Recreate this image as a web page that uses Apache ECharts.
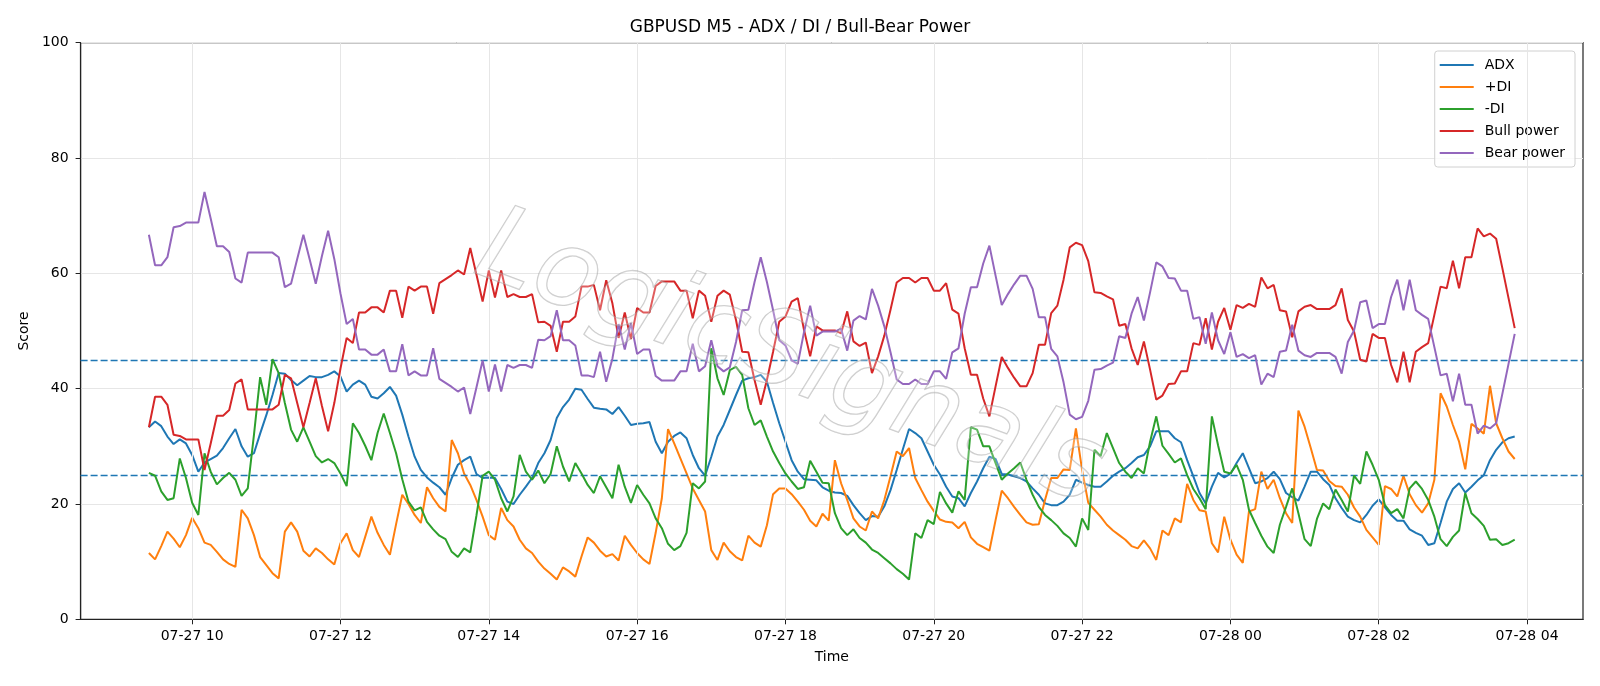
<!DOCTYPE html>
<html>
<head>
<meta charset="utf-8">
<title>GBPUSD M5 - ADX / DI / Bull-Bear Power</title>
<script src="https://cdn.jsdelivr.net/npm/echarts@6/dist/echarts.min.js"></script>
<style>
  html, body { margin: 0; padding: 0; background: #fff; }
  #chart { width: 1600px; height: 686px; }
</style>
</head>
<body>
<div id="chart"></div>
<script>
// 5-minute bars, first bar 07-27 09:25 (UTC)
const startTime = Date.UTC(2025, 6, 27, 9, 25);
const stepMs = 5 * 60 * 1000;

const adx = [
  33.3, 34.3, 33.5, 31.7, 30.4, 31.2, 30.5, 28.5, 25.6, 27.2, 27.8, 28.4, 29.7, 31.4, 33.0, 30.0, 28.2, 28.8, 32.2, 35.4, 38.9, 42.7, 42.6, 41.5, 40.6, 41.4, 42.2, 42.0, 42.0, 42.4, 43.0, 42.1,
  39.5, 40.7, 41.4, 40.7, 38.6, 38.3, 39.2, 40.3, 38.8, 35.5, 31.7, 28.2, 25.9, 24.6, 23.7, 22.9, 21.6, 24.5, 26.8, 27.6, 28.2, 25.2, 24.5, 24.6, 24.5, 22.6, 20.4, 20.0, 21.6, 23.0, 24.5, 27.1,
  28.8, 31.1, 34.9, 36.8, 38.1, 40.0, 39.8, 38.2, 36.7, 36.5, 36.4, 35.6, 36.8, 35.3, 33.7, 33.9, 34.0, 34.2, 30.8, 28.8, 30.8, 31.8, 32.4, 31.4, 28.5, 26.2, 24.9, 28.2, 31.7, 33.7, 36.3, 38.9,
  41.4, 41.8, 42.0, 42.4, 41.2, 37.5, 34.0, 30.8, 27.6, 25.6, 24.3, 24.2, 24.1, 22.9, 22.3, 22.0, 21.9, 21.4, 19.8, 18.4, 17.2, 17.9, 17.8, 19.6, 22.4, 25.9, 29.5, 33.0, 32.3, 31.4, 29.1, 26.8, 25.1,
  23.0, 21.3, 21.0, 19.6, 21.9, 23.9, 26.2, 28.2, 27.8, 25.2, 25.1, 24.8, 24.5, 23.9, 22.7, 21.6, 20.1, 19.8, 19.8, 20.4, 21.6, 24.2, 23.7, 23.3, 23.0, 23.0, 23.9, 24.9, 25.6, 26.2, 27.1, 28.1,
  28.5, 30.0, 32.6, 32.6, 32.6, 31.4, 30.7, 27.6, 24.8, 21.9, 20.1, 23.0, 25.4, 24.6, 25.2, 27.1, 28.8, 26.2, 23.6, 23.9, 24.5, 25.6, 24.3, 21.9, 21.2, 20.6, 23.0, 25.6, 25.6, 24.3, 23.3, 21.0,
  19.3, 17.8, 17.2, 16.8, 18.1, 19.7, 20.8, 19.4, 18.1, 17.1, 17.1, 15.6, 15.0, 14.5, 12.9, 13.2, 16.7, 20.4, 22.6, 23.6, 22.0, 23.0, 24.1, 25.0, 27.6, 29.4, 30.7, 31.4, 31.7
];

const plusDI = [
  11.5, 10.4, 12.7, 15.2, 14.0, 12.5, 14.6, 17.6, 15.8, 13.3, 12.9, 11.7, 10.4, 9.6, 9.1, 19.0, 17.5, 14.6, 10.8, 9.4, 8.0, 7.1, 15.2, 16.8, 15.2, 11.9, 10.9, 12.3, 11.5, 10.4, 9.5, 13.2,
  14.9, 12.0, 10.8, 14.3, 17.8, 15.0, 12.9, 11.2, 16.5, 21.6, 20.0, 18.1, 16.7, 22.9, 21.0, 19.5, 18.7, 31.1, 28.8, 25.3, 23.3, 20.7, 17.8, 14.6, 13.8, 19.3, 17.2, 16.1, 13.8, 12.3, 11.5, 10.0,
  8.8, 7.9, 6.9, 9.0, 8.3, 7.4, 10.9, 14.2, 13.3, 11.9, 10.9, 11.3, 10.2, 14.5, 12.9, 11.5, 10.4, 9.6, 15.0, 21.0, 33.0, 30.5, 27.9, 25.3, 22.7, 20.7, 18.7, 12.0, 10.3, 13.3, 11.8, 10.8,
  10.2, 14.5, 13.3, 12.6, 16.3, 21.7, 22.7, 22.7, 21.7, 20.4, 19.0, 17.1, 16.1, 18.3, 17.1, 27.6, 23.6, 20.7, 17.5, 16.1, 15.4, 18.7, 17.5, 20.7, 24.8, 29.1, 28.3, 29.7, 24.5, 22.4, 20.4, 18.8, 17.3,
  16.9, 16.8, 15.8, 16.9, 14.2, 13.1, 12.5, 11.9, 17.2, 22.3, 21.0, 19.5, 18.1, 16.8, 16.4, 16.5, 20.7, 24.5, 24.5, 26.0, 25.9, 33.1, 25.9, 20.2, 19.0, 17.8, 16.4, 15.4, 14.6, 13.8, 12.7, 12.3,
  13.7, 12.3, 10.3, 15.4, 14.6, 17.5, 16.8, 23.5, 20.7, 18.9, 18.7, 13.2, 11.6, 17.8, 13.8, 11.2, 9.8, 18.7, 19.1, 25.6, 22.6, 24.2, 21.0, 18.4, 16.7, 36.2, 33.4, 29.7, 25.9, 25.8, 24.0, 23.1,
  23.0, 21.6, 19.4, 17.8, 15.5, 14.2, 12.9, 23.1, 22.6, 21.3, 24.9, 21.7, 19.8, 18.5, 20.1, 24.2, 39.2, 36.9, 33.7, 30.8, 26.0, 33.9, 33.1, 32.2, 40.5, 34.0, 31.4, 29.1, 27.8
];

const minusDI = [
  25.4, 24.9, 22.2, 20.7, 21.0, 27.9, 24.5, 20.2, 18.1, 28.8, 25.6, 23.4, 24.5, 25.4, 24.2, 21.4, 22.7, 32.0, 42.0, 37.2, 45.1, 42.7, 37.5, 32.9, 30.8, 33.3, 30.8, 28.3, 27.2, 27.8, 27.1, 25.3,
  23.1, 34.0, 32.3, 30.1, 27.6, 32.3, 35.7, 32.3, 28.8, 24.3, 20.4, 18.9, 19.4, 16.9, 15.6, 14.5, 13.9, 11.7, 10.8, 12.3, 11.6, 18.0, 24.9, 25.6, 24.2, 21.0, 18.7, 21.3, 28.5, 25.6, 24.2, 25.8,
  23.6, 25.2, 30.0, 26.5, 23.9, 27.1, 25.3, 23.3, 21.9, 24.8, 22.9, 21.0, 26.8, 23.0, 20.2, 23.3, 21.6, 20.1, 17.5, 15.8, 13.1, 12.0, 12.7, 15.0, 23.6, 22.7, 23.9, 47.0, 41.8, 38.9, 43.2, 43.8,
  42.4, 36.6, 33.7, 34.5, 31.7, 29.1, 27.1, 25.3, 23.9, 22.6, 22.9, 27.5, 25.6, 23.7, 23.6, 18.4, 15.8, 14.6, 15.6, 14.1, 13.3, 12.1, 11.5, 10.6, 9.7, 8.7, 7.9, 6.9, 14.9, 14.1, 17.2, 16.5, 22.1,
  20.1, 18.5, 22.2, 20.7, 33.3, 32.9, 30.0, 30.0, 27.1, 24.2, 25.3, 26.2, 27.2, 24.2, 21.6, 19.5, 18.1, 17.2, 16.2, 14.9, 14.1, 12.6, 17.5, 15.5, 29.4, 28.3, 32.3, 29.7, 27.1, 25.6, 24.5, 26.2,
  25.3, 30.8, 35.2, 30.1, 28.7, 27.2, 27.9, 25.0, 22.6, 21.0, 19.1, 35.2, 30.2, 25.6, 25.3, 26.8, 24.2, 19.0, 16.7, 14.5, 12.6, 11.5, 16.4, 19.5, 22.7, 18.4, 13.9, 12.7, 17.4, 20.1, 19.1, 22.5,
  20.7, 18.7, 24.9, 23.5, 29.1, 26.8, 24.2, 19.8, 18.4, 19.1, 17.5, 22.7, 23.9, 22.6, 20.7, 17.8, 13.9, 12.7, 14.3, 15.4, 21.9, 18.4, 17.4, 16.2, 13.8, 13.9, 12.9, 13.2, 13.8
];

const bullPower = [
  33.3, 38.6, 38.6, 37.2, 32.0, 31.8, 31.2, 31.2, 31.2, 25.9, 30.5, 35.3, 35.3, 36.3, 40.9, 41.6, 36.4, 36.4, 36.4, 36.4, 36.4, 37.2, 42.4, 41.8, 37.5, 33.3, 37.5, 41.8, 37.0, 32.6, 37.5, 43.5,
  48.8, 47.9, 53.2, 53.2, 54.1, 54.1, 53.2, 57.0, 57.0, 52.3, 57.7, 57.0, 57.7, 57.7, 53.0, 58.3, 59.0, 59.7, 60.5, 59.8, 64.4, 59.8, 55.1, 60.5, 55.8, 60.5, 55.9, 56.4, 55.9, 55.9, 56.4, 51.5,
  51.6, 50.9, 46.4, 51.6, 51.6, 52.5, 57.7, 57.7, 58.0, 53.6, 58.8, 54.8, 48.8, 53.2, 48.6, 54.0, 53.2, 53.2, 57.8, 58.6, 58.6, 58.6, 57.0, 57.0, 52.2, 57.0, 56.1, 51.6, 56.1, 57.0, 56.3, 51.9,
  46.4, 46.3, 41.5, 37.2, 41.5, 46.4, 51.6, 52.5, 55.1, 55.7, 50.2, 45.6, 50.8, 50.1, 50.1, 50.1, 49.6, 53.4, 48.2, 47.4, 48.0, 42.7, 45.6, 49.2, 53.7, 58.4, 59.2, 59.2, 58.4, 59.2, 59.2, 57.0, 57.0,
  58.3, 53.7, 53.0, 47.0, 42.4, 42.4, 38.3, 35.2, 40.4, 45.5, 43.6, 41.9, 40.4, 40.4, 42.7, 47.6, 47.6, 53.1, 54.4, 58.9, 64.5, 65.3, 64.9, 62.1, 56.7, 56.6, 56.0, 55.5, 50.9, 51.2, 47.0, 44.1,
  48.2, 43.3, 38.1, 38.8, 40.8, 40.9, 43.0, 43.0, 47.9, 47.6, 52.2, 46.8, 51.6, 54.0, 50.2, 54.5, 54.0, 54.7, 54.2, 59.3, 57.4, 58.0, 53.6, 53.4, 48.9, 53.4, 54.2, 54.5, 53.8, 53.8, 53.8, 54.5,
  57.4, 51.9, 49.9, 45.0, 44.7, 49.5, 48.8, 48.8, 44.1, 41.1, 46.4, 41.1, 46.4, 47.2, 47.9, 52.8, 57.7, 57.4, 62.2, 57.4, 62.8, 62.8, 67.8, 66.4, 66.9, 66.0, 60.9, 55.7, 50.5
];

const bearPower = [
  66.7, 61.4, 61.4, 62.8, 68.0, 68.2, 68.8, 68.8, 68.8, 74.1, 69.5, 64.7, 64.7, 63.7, 59.1, 58.4, 63.6, 63.6, 63.6, 63.6, 63.6, 62.8, 57.6, 58.2, 62.5, 66.7, 62.5, 58.2, 63.0, 67.4, 62.5, 56.5,
  51.2, 52.1, 46.8, 46.8, 45.9, 45.9, 46.8, 43.0, 43.0, 47.7, 42.3, 43.0, 42.3, 42.3, 47.0, 41.7, 41.0, 40.3, 39.5, 40.2, 35.6, 40.2, 44.9, 39.5, 44.2, 39.5, 44.1, 43.6, 44.1, 44.1, 43.6, 48.5,
  48.4, 49.1, 53.6, 48.4, 48.4, 47.5, 42.3, 42.3, 42.0, 46.4, 41.2, 45.2, 51.2, 46.8, 51.4, 46.0, 46.8, 46.8, 42.2, 41.4, 41.4, 41.4, 43.0, 43.0, 47.8, 43.0, 43.9, 48.4, 43.9, 43.0, 43.7, 48.1,
  53.6, 53.7, 58.5, 62.8, 58.5, 53.6, 48.4, 47.5, 44.9, 44.3, 49.8, 54.4, 49.2, 49.9, 49.9, 49.9, 50.4, 46.6, 51.8, 52.6, 52.0, 57.3, 54.4, 50.8, 46.3, 41.6, 40.8, 40.8, 41.6, 40.8, 40.8, 43.0, 43.0,
  41.7, 46.3, 47.0, 53.0, 57.6, 57.6, 61.7, 64.8, 59.6, 54.5, 56.4, 58.1, 59.6, 59.6, 57.3, 52.4, 52.4, 46.9, 45.6, 41.1, 35.5, 34.7, 35.1, 37.9, 43.3, 43.4, 44.0, 44.5, 49.1, 48.8, 53.0, 55.9,
  51.8, 56.7, 61.9, 61.2, 59.2, 59.1, 57.0, 57.0, 52.1, 52.4, 47.8, 53.2, 48.4, 46.0, 49.8, 45.5, 46.0, 45.3, 45.8, 40.7, 42.6, 42.0, 46.4, 46.6, 51.1, 46.6, 45.8, 45.5, 46.2, 46.2, 46.2, 45.5,
  42.6, 48.1, 50.1, 55.0, 55.3, 50.5, 51.2, 51.2, 55.9, 58.9, 53.6, 58.9, 53.6, 52.8, 52.1, 47.2, 42.3, 42.6, 37.8, 42.6, 37.2, 37.2, 32.2, 33.6, 33.1, 34.0, 39.1, 44.3, 49.5
];

const levels = [45, 25];
const seriesNames = ['ADX', '+DI', '-DI', 'Bull power', 'Bear power'];
const seriesValues = [adx, plusDI, minusDI, bullPower, bearPower];
const colors = ['#1f77b4', '#ff7f0e', '#2ca02c', '#d62728', '#9467bd'];

const times = adx.map((v, i) => startTime + i * stepMs);
// matplotlib-style 5% margin on the time axis
const span = times[times.length - 1] - times[0];
const xMin = times[0] - span * 0.05;
const xMax = times[times.length - 1] + span * 0.05;

// tick marks every 2 hours: 07-27 10 ... 07-28 04
const tickStep = 2 * 3600 * 1000;
const xTicks = [];
for (let t = Math.ceil(xMin / tickStep) * tickStep; t <= xMax; t += tickStep) xTicks.push(t);

const pad = n => String(n).padStart(2, '0');
const font = '"DejaVu Sans", sans-serif';
const gridColor = '#e6e6e6';

const chart = echarts.init(document.getElementById('chart'));

// vertical grid lines at the 2-hour ticks, kept under the data lines
const series = [{
  name: 'xgrid',
  type: 'line',
  data: [],
  silent: true,
  z: 1,
  markLine: {
    silent: true,
    symbol: 'none',
    label: { show: false },
    lineStyle: { color: gridColor, type: 'solid', width: 1 },
    data: xTicks.map(t => ({ xAxis: t }))
  }
}];

seriesNames.forEach((name, k) => {
  const s = {
    name: name,
    type: 'line',
    symbol: 'none',
    data: times.map((t, i) => [t, seriesValues[k][i]]),
    lineStyle: { color: colors[k], width: 2 },
    itemStyle: { color: colors[k] },
    z: 3 + k
  };
  if (k === 0) {
    s.markLine = {
      silent: true,
      symbol: 'none',
      label: { show: false },
      lineStyle: { color: '#1f77b4', type: [7, 3], width: 1.4 },
      data: levels.map(v => ({ yAxis: v }))
    };
  }
  series.push(s);
});

const option = {
  animation: false,
  backgroundColor: '#fff',
  title: {
    text: 'GBPUSD M5 - ADX / DI / Bull-Bear Power',
    left: 'center',
    top: 14,
    textStyle: { fontFamily: font, fontSize: 17, fontWeight: 'normal', color: '#000' }
  },
  legend: {
    data: seriesNames,
    orient: 'vertical',
    right: 25,
    top: 51,
    padding: [6, 10, 6, 5],
    itemWidth: 34,
    itemHeight: 2,
    itemGap: 6,
    icon: 'rect',
    backgroundColor: 'rgba(255,255,255,0.8)',
    borderColor: '#d0d0d0',
    borderWidth: 1,
    borderRadius: 3,
    textStyle: { fontFamily: font, fontSize: 14, color: '#000', lineHeight: 16, padding: [0, 0, 0, 6] }
  },
  grid: {
    left: 80.6,
    right: 17,
    top: 42.7,
    bottom: 66.7,
    show: true,
    borderColor: '#222',
    borderWidth: 1.2
  },
  xAxis: {
    type: 'value',
    min: xMin,
    max: xMax,
    scale: true,
    name: 'Time',
    nameLocation: 'middle',
    nameGap: 31,
    nameTextStyle: { fontFamily: font, fontSize: 14, color: '#000' },
    axisLine: { show: true, lineStyle: { color: '#222', width: 1.2 } },
    axisTick: { show: true, length: 5, customValues: xTicks, lineStyle: { color: '#222' } },
    axisLabel: {
      fontFamily: font,
      fontSize: 14,
      color: '#000',
      margin: 10,
      customValues: xTicks,
      formatter: function (v) {
        const d = new Date(v);
        return pad(d.getUTCMonth() + 1) + '-' + pad(d.getUTCDate()) + ' ' + pad(d.getUTCHours());
      }
    },
    splitLine: { show: false }
  },
  yAxis: {
    type: 'value',
    min: 0,
    max: 100,
    interval: 20,
    name: 'Score',
    nameLocation: 'middle',
    nameGap: 46,
    nameTextStyle: { fontFamily: font, fontSize: 14, color: '#000' },
    axisLine: { show: true, lineStyle: { color: '#222', width: 1.2 } },
    axisTick: { show: true, length: 5, lineStyle: { color: '#222' } },
    axisLabel: { fontFamily: font, fontSize: 14, color: '#000', margin: 12 },
    splitLine: { show: true, lineStyle: { color: gridColor, width: 1 } }
  },
  graphic: [{
    type: 'text',
    x: 790,
    y: 362,
    rotation: -0.36,
    z: 100,
    silent: true,
    style: {
      text: 'LogicSignals',
      font: 'italic 106px "DejaVu Sans", sans-serif',
      fill: 'rgba(255,255,255,0.25)',
      stroke: 'rgba(150,150,150,0.5)',
      lineWidth: 1.3,
      align: 'center',
      verticalAlign: 'middle'
    }
  }],
  series: series
};

chart.setOption(option);
</script>
</body>
</html>
